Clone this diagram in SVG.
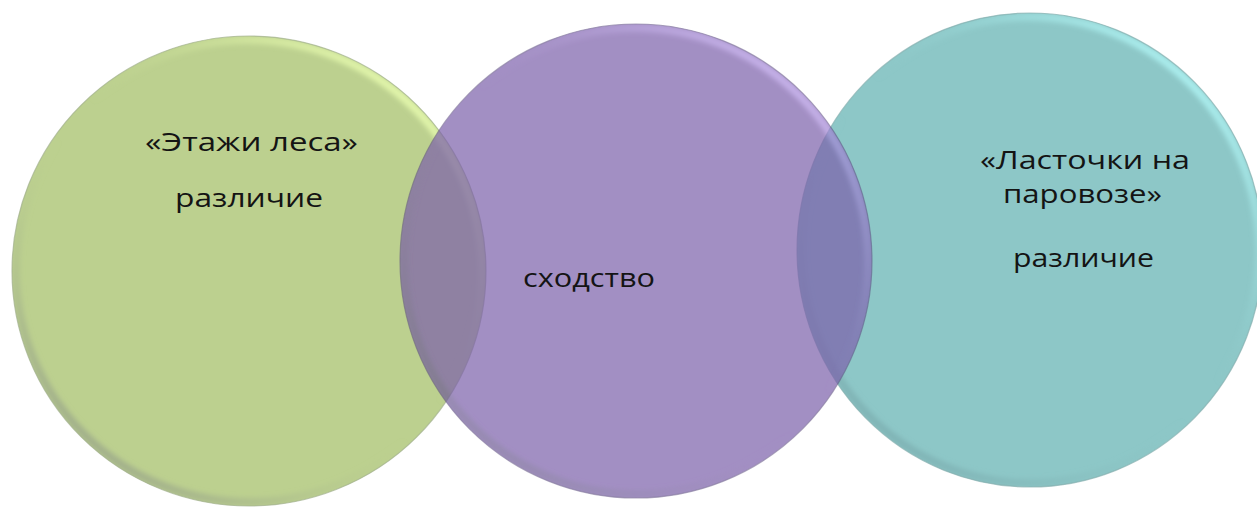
<svg xmlns="http://www.w3.org/2000/svg" width="1257" height="508" viewBox="0 0 1257 508">
  <style>
    .lbl { font-family: "Open Sans", "Noto Sans", "DejaVu Sans", sans-serif; font-size: 25px; fill: #141414; text-anchor: start; }
    .edge { fill: none; stroke-width: 1.2; }
    .rim { fill: none; stroke-width: 8; }
  </style>
  <defs>
    <filter id="soft" x="-5%" y="-5%" width="110%" height="110%">
      <feGaussianBlur stdDeviation="2.5"/>
    </filter>
    <linearGradient id="rimGreen" x1="0.85" y1="0.1" x2="0.15" y2="0.9">
      <stop offset="0" stop-color="#E6FAAE" stop-opacity="1"/>
      <stop offset="0.45" stop-color="#BCD08F" stop-opacity="0"/>
      <stop offset="0.55" stop-color="#BCD08F" stop-opacity="0"/>
      <stop offset="1" stop-color="#9AA68A" stop-opacity="0.85"/>
    </linearGradient>
    <linearGradient id="rimPurple" x1="0.85" y1="0.1" x2="0.15" y2="0.9">
      <stop offset="0" stop-color="#B396E6" stop-opacity="1"/>
      <stop offset="0.45" stop-color="#7C60AB" stop-opacity="0"/>
      <stop offset="0.55" stop-color="#7C60AB" stop-opacity="0"/>
      <stop offset="1" stop-color="#665889" stop-opacity="0.85"/>
    </linearGradient>
    <linearGradient id="rimTeal" x1="0.85" y1="0.1" x2="0.15" y2="0.9">
      <stop offset="0" stop-color="#AEF2F2" stop-opacity="1"/>
      <stop offset="0.45" stop-color="#8DC7C7" stop-opacity="0"/>
      <stop offset="0.55" stop-color="#8DC7C7" stop-opacity="0"/>
      <stop offset="1" stop-color="#7CAEB0" stop-opacity="0.85"/>
    </linearGradient>
    <clipPath id="clipGreen"><ellipse cx="249" cy="271" rx="237" ry="235"/></clipPath>
    <clipPath id="clipPurple"><ellipse cx="636" cy="261" rx="236" ry="237"/></clipPath>
    <clipPath id="clipTeal"><ellipse cx="1030" cy="250" rx="233" ry="237"/></clipPath>
  </defs>

  <g id="node-green">
    <ellipse cx="249" cy="271" rx="237" ry="235" fill="#BCD08F"/>
    <g clip-path="url(#clipGreen)">
      <ellipse class="rim" cx="249" cy="271" rx="233" ry="231" stroke="url(#rimGreen)" filter="url(#soft)"/>
    </g>
    <ellipse class="edge" cx="249" cy="271" rx="237" ry="235" stroke="#A3B08E" stroke-opacity="0.7"/>
    <text class="lbl" x="145" y="151" textLength="213" lengthAdjust="spacingAndGlyphs">«Этажи леса»</text>
    <text class="lbl" x="175" y="207" textLength="148" lengthAdjust="spacingAndGlyphs">различие</text>
  </g>

  <g id="node-teal">
    <ellipse cx="1030" cy="250" rx="233" ry="237" fill="#8DC7C7"/>
    <g clip-path="url(#clipTeal)">
      <ellipse class="rim" cx="1030" cy="250" rx="229" ry="233" stroke="url(#rimTeal)" filter="url(#soft)"/>
    </g>
    <ellipse class="edge" cx="1030" cy="250" rx="233" ry="237" stroke="#86AFAF" stroke-opacity="0.7"/>
    <text class="lbl" x="980" y="169" textLength="210" lengthAdjust="spacingAndGlyphs">«Ласточки на</text>
    <text class="lbl" x="1003" y="203" textLength="159" lengthAdjust="spacingAndGlyphs">паровозе»</text>
    <text class="lbl" x="1013" y="267" textLength="141" lengthAdjust="spacingAndGlyphs">различие</text>
  </g>

  <g id="node-purple">
    <g opacity="0.7">
      <ellipse cx="636" cy="261" rx="236" ry="237" fill="#7C60AB"/>
      <g clip-path="url(#clipPurple)">
        <ellipse class="rim" cx="636" cy="261" rx="232" ry="233" stroke="url(#rimPurple)" filter="url(#soft)"/>
      </g>
      <ellipse class="edge" cx="636" cy="261" rx="236" ry="237" stroke="#5A4C7C" stroke-opacity="0.7"/>
    </g>
    <text class="lbl" x="523" y="287" textLength="132" lengthAdjust="spacingAndGlyphs" fill="#151228">сходство</text>
  </g>

  <g id="connectors"/>
</svg>
